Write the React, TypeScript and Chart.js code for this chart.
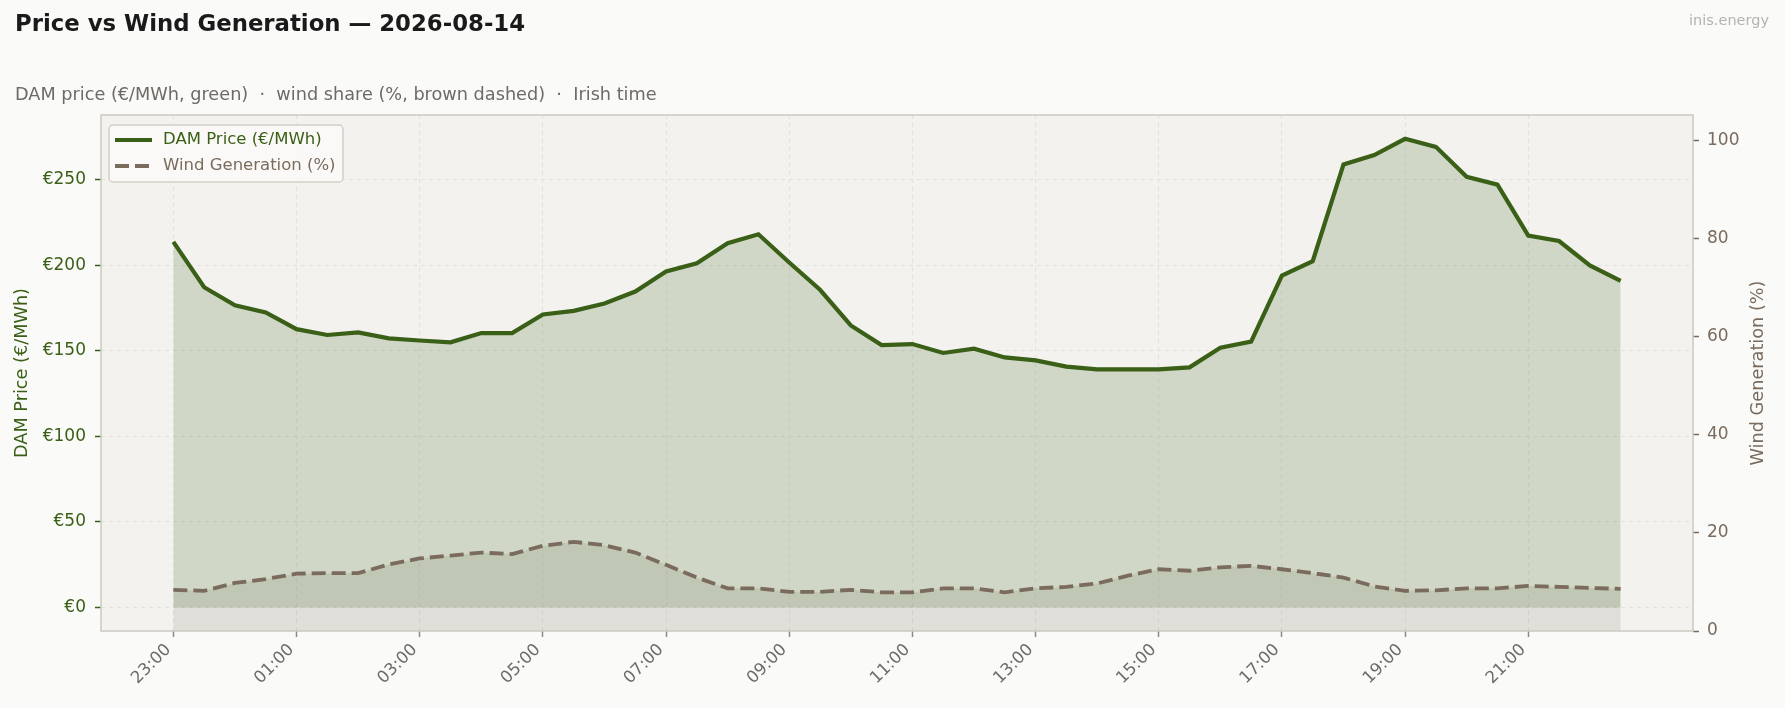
import { useEffect, useRef } from 'react'
import { Chart, registerables } from 'chart.js'

Chart.register(...registerables)

const timeLabels = [
  '23:00', '23:30', '00:00', '00:30', '01:00', '01:30', '02:00', '02:30',
  '03:00', '03:30', '04:00', '04:30', '05:00', '05:30', '06:00', '06:30',
  '07:00', '07:30', '08:00', '08:30', '09:00', '09:30', '10:00', '10:30',
  '11:00', '11:30', '12:00', '12:30', '13:00', '13:30', '14:00', '14:30',
  '15:00', '15:30', '16:00', '16:30', '17:00', '17:30', '18:00', '18:30',
  '19:00', '19:30', '20:00', '20:30', '21:00', '21:30', '22:00', '22:30',
]

const damPrice = [
  213.6, 187.1, 176.6, 172.4, 162.6, 159.2, 160.7, 157.2, 156.0, 154.9, 160.3, 160.3,
  171.2, 173.3, 177.6, 184.6, 196.3, 201.1, 212.8, 218.0, 201.5, 185.6, 164.8, 153.3,
  153.9, 148.7, 151.2, 146.1, 144.4, 140.7, 139.1, 139.1, 139.1, 140.3, 151.8, 155.3,
  193.9, 202.3, 258.8, 264.3, 273.8, 269.1, 251.6, 247.0, 217.3, 214.1, 199.8, 190.8,
]

const windShare = [
  8.4, 8.2, 9.8, 10.6, 11.7, 11.8, 11.8, 13.6, 14.8, 15.4, 16.0, 15.7,
  17.4, 18.2, 17.5, 16.0, 13.5, 10.9, 8.7, 8.7, 8.0, 8.0, 8.4, 7.9,
  7.9, 8.7, 8.7, 7.9, 8.7, 9.0, 9.7, 11.3, 12.6, 12.3, 13.0, 13.3,
  12.6, 11.8, 10.9, 9.1, 8.2, 8.3, 8.7, 8.7, 9.2, 9.0, 8.8, 8.6,
]

// every 4th half-hour gets a label (23:00, 01:00 ... 21:00)
const xTickIndex = [0, 4, 8, 12, 16, 20, 24, 28, 32, 36, 40, 44]
const priceTicks = [0, 50, 100, 150, 200, 250]
const windTicks = [0, 20, 40, 60, 80, 100]

const GREEN = '#3a5f16'
const BROWN = '#7a6b5d'
const FONT = 'DejaVu Sans'

const backdrop = {
  id: 'backdrop',
  beforeDraw(chart: Chart) {
    const { ctx, chartArea: a, width, height } = chart
    ctx.save()
    ctx.fillStyle = '#fafaf8'
    ctx.fillRect(0, 0, width, height)
    ctx.fillStyle = '#f3f2ef'
    ctx.fillRect(a.left, a.top, a.right - a.left, a.bottom - a.top)
    ctx.restore()
  },
  afterDatasetsDraw(chart: Chart) {
    const { ctx, chartArea: a } = chart
    ctx.save()
    ctx.strokeStyle = '#cdc9c2'
    ctx.lineWidth = 1.5
    ctx.strokeRect(a.left, a.top, a.right - a.left, a.bottom - a.top)
    ctx.restore()
  },
}

const headings = {
  id: 'headings',
  afterDraw(chart: Chart) {
    const { ctx, chartArea: a } = chart
    ctx.save()
    ctx.textBaseline = 'middle'
    ctx.textAlign = 'left'
    ctx.fillStyle = '#1a1a1a'
    ctx.font = `bold 22.8px "${FONT}"`
    ctx.fillText('Price vs Wind Generation — 2026-08-14', 15, 25)
    ctx.fillStyle = '#6e6a66'
    ctx.font = `17.7px "${FONT}"`
    ctx.fillText('DAM price (€/MWh, green)  ·  wind share (%, brown dashed)  ·  Irish time', 15, 95)
    ctx.textAlign = 'right'
    ctx.fillStyle = '#b3b3b3'
    ctx.font = `14.5px "${FONT}"`
    ctx.fillText('inis.energy', 1769, 21)
    // right axis title reads bottom-to-top like the left one
    ctx.translate(1758, (a.top + a.bottom) / 2)
    ctx.rotate(-Math.PI / 2)
    ctx.textAlign = 'center'
    ctx.fillStyle = BROWN
    ctx.font = `17.7px "${FONT}"`
    ctx.fillText('Wind Generation (%)', 0, 0)
    ctx.restore()
  },
}

// legend box drawn inside the plot, top-left
const boxLegend = {
  id: 'boxLegend',
  afterDraw(chart: Chart) {
    const { ctx } = chart
    const x = 109, y = 125, w = 234, h = 57
    ctx.save()
    ctx.beginPath()
    ctx.roundRect(x, y, w, h, 4)
    ctx.fillStyle = 'rgba(250,250,248,0.85)'
    ctx.fill()
    ctx.strokeStyle = '#d3cfc8'
    ctx.lineWidth = 1.5
    ctx.stroke()
    const rows = chart.data.datasets.map((ds: any, i: number) => ({
      label: ds.label,
      color: ds.borderColor,
      dash: ds.borderDash || [],
      width: i === 0 ? 4.2 : 3.8,
      cy: y + 15 + i * 26,
    }))
    rows.forEach((r) => {
      ctx.beginPath()
      ctx.setLineDash(r.dash)
      ctx.strokeStyle = r.color
      ctx.lineWidth = r.width
      ctx.moveTo(115, r.cy)
      ctx.lineTo(152, r.cy)
      ctx.stroke()
      ctx.setLineDash([])
      ctx.fillStyle = r.color
      ctx.font = `16.5px "${FONT}"`
      ctx.textBaseline = 'middle'
      ctx.fillText(r.label, 163, r.cy)
    })
    ctx.restore()
  },
}

export default function App() {
  const chartRef = useRef<HTMLCanvasElement>(null)
  const chartInstance = useRef<Chart | null>(null)

  useEffect(() => {
    document.body.style.margin = '0'
    if (!chartRef.current) return
    if (chartInstance.current) {
      chartInstance.current.destroy()
    }
    const ctx = chartRef.current.getContext('2d')
    if (!ctx) return

    Chart.defaults.font.family = FONT

    chartInstance.current = new Chart(ctx, {
      type: 'line',
      data: {
        datasets: [
          {
            label: 'DAM Price (€/MWh)',
            data: damPrice.map((v, i) => ({ x: i, y: v })),
            yAxisID: 'y',
            borderColor: GREEN,
            borderWidth: 4.2,
            backgroundColor: 'rgba(68,112,39,0.2)',
            fill: { value: 0 },
            pointRadius: 0,
            tension: 0,
          },
          {
            label: 'Wind Generation (%)',
            data: windShare.map((v, i) => ({ x: i, y: v })),
            yAxisID: 'y1',
            borderColor: BROWN,
            borderWidth: 3.8,
            borderDash: [14, 6],
            backgroundColor: 'rgba(122,107,93,0.15)',
            fill: 'origin',
            pointRadius: 0,
            tension: 0,
          },
        ],
      },
      options: {
        animation: false,
        responsive: true,
        maintainAspectRatio: false,
        devicePixelRatio: 1,
        layout: { padding: { top: 115, left: 0, right: 0, bottom: 0 } },
        plugins: {
          legend: { display: false },
          tooltip: { enabled: false },
          filler: { drawTime: 'beforeDatasetsDraw' },
        },
        scales: {
          x: {
            type: 'linear',
            min: -2.35,
            max: 49.35,
            afterBuildTicks: (scale: any) => {
              scale.ticks = xTickIndex.map((v) => ({ value: v }))
            },
            afterFit: (scale: any) => {
              scale.height = 77
            },
            ticks: {
              autoSkip: false,
              minRotation: 45,
              maxRotation: 45,
              padding: 3,
              labelOffset: -5,
              color: '#6b6b6b',
              font: { size: 16.7 },
              callback: (v: any) => timeLabels[v],
            },
            grid: {
              color: '#e3e1dc',
              lineWidth: 1,
              tickColor: '#8a8a8a',
              tickLength: 6,
              tickWidth: 1.5,
            },
            border: { display: false, dash: [4, 4] },
          },
          y: {
            type: 'linear',
            position: 'left',
            min: -13.7,
            max: 287.7,
            afterBuildTicks: (scale: any) => {
              scale.ticks = priceTicks.map((v) => ({ value: v }))
            },
            afterFit: (scale: any) => {
              scale.width = 101
            },
            ticks: {
              padding: 9,
              color: GREEN,
              font: { size: 17 },
              callback: (v: any) => '€' + v,
            },
            grid: {
              color: '#e3e1dc',
              lineWidth: 1,
              tickColor: GREEN,
              tickLength: 6,
              tickWidth: 1.5,
            },
            border: { display: false, dash: [4, 4] },
            title: {
              display: true,
              text: 'DAM Price (€/MWh)',
              color: GREEN,
              font: { size: 17.7 },
              padding: { top: 12, bottom: 0 },
            },
          },
          y1: {
            type: 'linear',
            position: 'right',
            min: 0,
            max: 105.3,
            afterBuildTicks: (scale: any) => {
              scale.ticks = windTicks.map((v) => ({ value: v }))
            },
            afterFit: (scale: any) => {
              scale.width = 92
            },
            ticks: {
              padding: 8,
              color: BROWN,
              font: { size: 17 },
            },
            grid: {
              drawOnChartArea: false,
              tickColor: BROWN,
              tickLength: 6,
              tickWidth: 1.5,
            },
            border: { display: false },
          },
        },
      },
      plugins: [backdrop, headings, boxLegend],
    })

    return () => {
      if (chartInstance.current) {
        chartInstance.current.destroy()
        chartInstance.current = null
      }
    }
  }, [])

  return (
    <div style={{ width: 1785, height: 708, position: 'relative' }}>
      <canvas ref={chartRef} />
    </div>
  )
}
